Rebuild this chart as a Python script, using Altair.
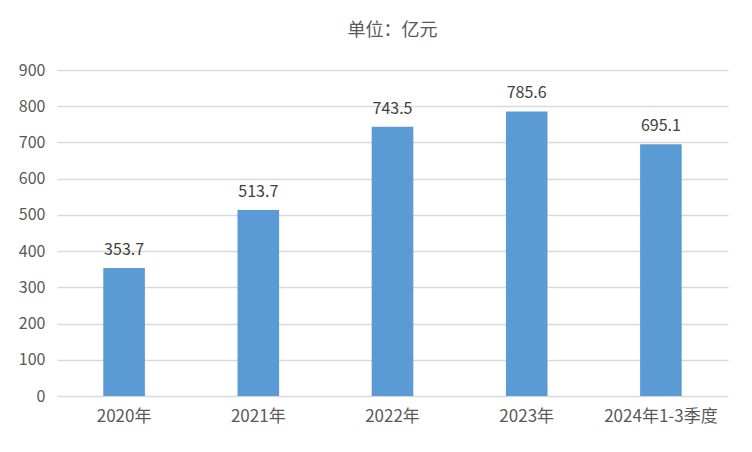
import altair as alt
import pandas as pd

categories = ["2020年", "2021年", "2022年", "2023年", "2024年1-3季度"]
values = [353.7, 513.7, 743.5, 785.6, 695.1]

df = pd.DataFrame({"cat": categories, "val": values})

FONT = "Noto Sans CJK SC"
GRAY = "#595959"

base = alt.Chart(df).encode(
    x=alt.X("cat:N", sort=categories, title=None,
            scale=alt.Scale(paddingInner=0.69, paddingOuter=0.345),
            axis=alt.Axis(labelAngle=0, labelFontSize=17, labelColor=GRAY, labelFont=FONT,
                          domain=False, ticks=False, grid=False, labelPadding=12)),
    y=alt.Y("val:Q", title=None,
            scale=alt.Scale(domain=[0, 900], nice=False),
            axis=alt.Axis(values=list(range(0, 1000, 100)), labelFontSize=16, labelColor=GRAY,
                          labelFont=FONT, domain=False, ticks=False, labelPadding=12,
                          gridColor="#d9d9d9", gridWidth=1.5)),
)

bars = base.mark_bar(color="#5b9bd5")
labels = base.mark_text(baseline="bottom", dy=-10, fontSize=16, color="#404040", font=FONT).encode(
    text=alt.Text("val:Q", format=".1f"))

chart = (bars + labels).properties(
    width=671, height=326,
    autosize=alt.AutoSizeParams(type="none"),
    padding={"left": 49, "top": 62, "right": 16, "bottom": 48},
    background="white",
    title=alt.TitleParams("单位：亿元", fontSize=18, color=GRAY, font=FONT, fontWeight="normal",
                          anchor="middle", offset=22),
).configure_view(strokeWidth=0, stroke="transparent")

chart.save("out.html", embed_options={"renderer": "svg", "actions": False})
